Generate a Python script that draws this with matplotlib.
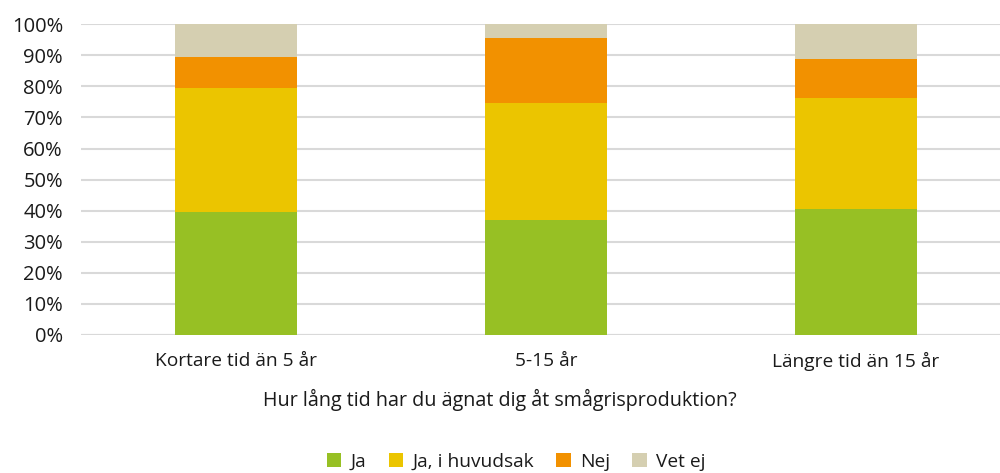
import matplotlib
matplotlib.use('Agg')
import matplotlib.pyplot as plt
import numpy as np

# ── Data ──────────────────────────────────────────────────────────────────────
categories = ['Kortare tid än 5 år', '5-15 år', 'Längre tid än 15 år']
series     = ['Ja', 'Ja, i huvudsak', 'Nej', 'Vet ej']
ja         = [39.5, 37.0, 40.4]
ja_huvud   = [40.0, 37.6, 35.9]
nej        = [10.0, 20.9, 12.4]
vet_ej     = [10.5, 4.5, 11.3]
colors     = ['#97c024', '#ebc500', '#f29100', '#d5cfb1']

plt.rcParams['font.family'] = ['Open Sans', 'DejaVu Sans']
TXT = '#1a1a1a'
FS  = 13.8

fig = plt.figure(figsize=(10, 4.73), dpi=100)
ax = fig.add_axes([0.081, 0.2918, 0.93, 0.657])

x = np.arange(len(categories))
bottom = np.zeros(len(categories))
for name, vals, c in zip(series, [ja, ja_huvud, nej, vet_ej], colors):
    ax.bar(x, vals, width=0.394, bottom=bottom, color=c, label=name, zorder=3)
    bottom += np.array(vals)

ax.set_xlim(-0.5, 2.5)
ax.set_ylim(0, 100)
ax.set_yticks(range(0, 101, 10))
ax.set_yticklabels([f'{v}%' for v in range(0, 101, 10)])
ax.yaxis.grid(True, color='#d9d9d9', linewidth=1.5, zorder=0)
ax.set_axisbelow(True)
for s in ax.spines.values():
    s.set_visible(False)
ax.axhline(0, color='#d9d9d9', linewidth=1.5, zorder=1)
ax.tick_params(axis='y', length=0, pad=13, labelsize=FS + 0.7, labelcolor=TXT)
ax.tick_params(axis='x', length=0, pad=12, labelsize=FS, labelcolor=TXT)
ax.set_xticks(x)
ax.set_xticklabels(categories)

fig.text(0.5, 1 - 400 / 473, 'Hur lång tid har du ägnat dig åt smågrisproduktion?',
         ha='center', va='center', fontsize=FS + 0.4, color=TXT)

fig.legend(loc='center', bbox_to_anchor=(0.5165, 1 - 462 / 473), ncol=4,
           frameon=False, fontsize=FS, handlelength=0.75, handleheight=0.75,
           handletextpad=0.5, columnspacing=1.15, labelcolor=TXT)

fig.savefig('out.png', dpi=100)
